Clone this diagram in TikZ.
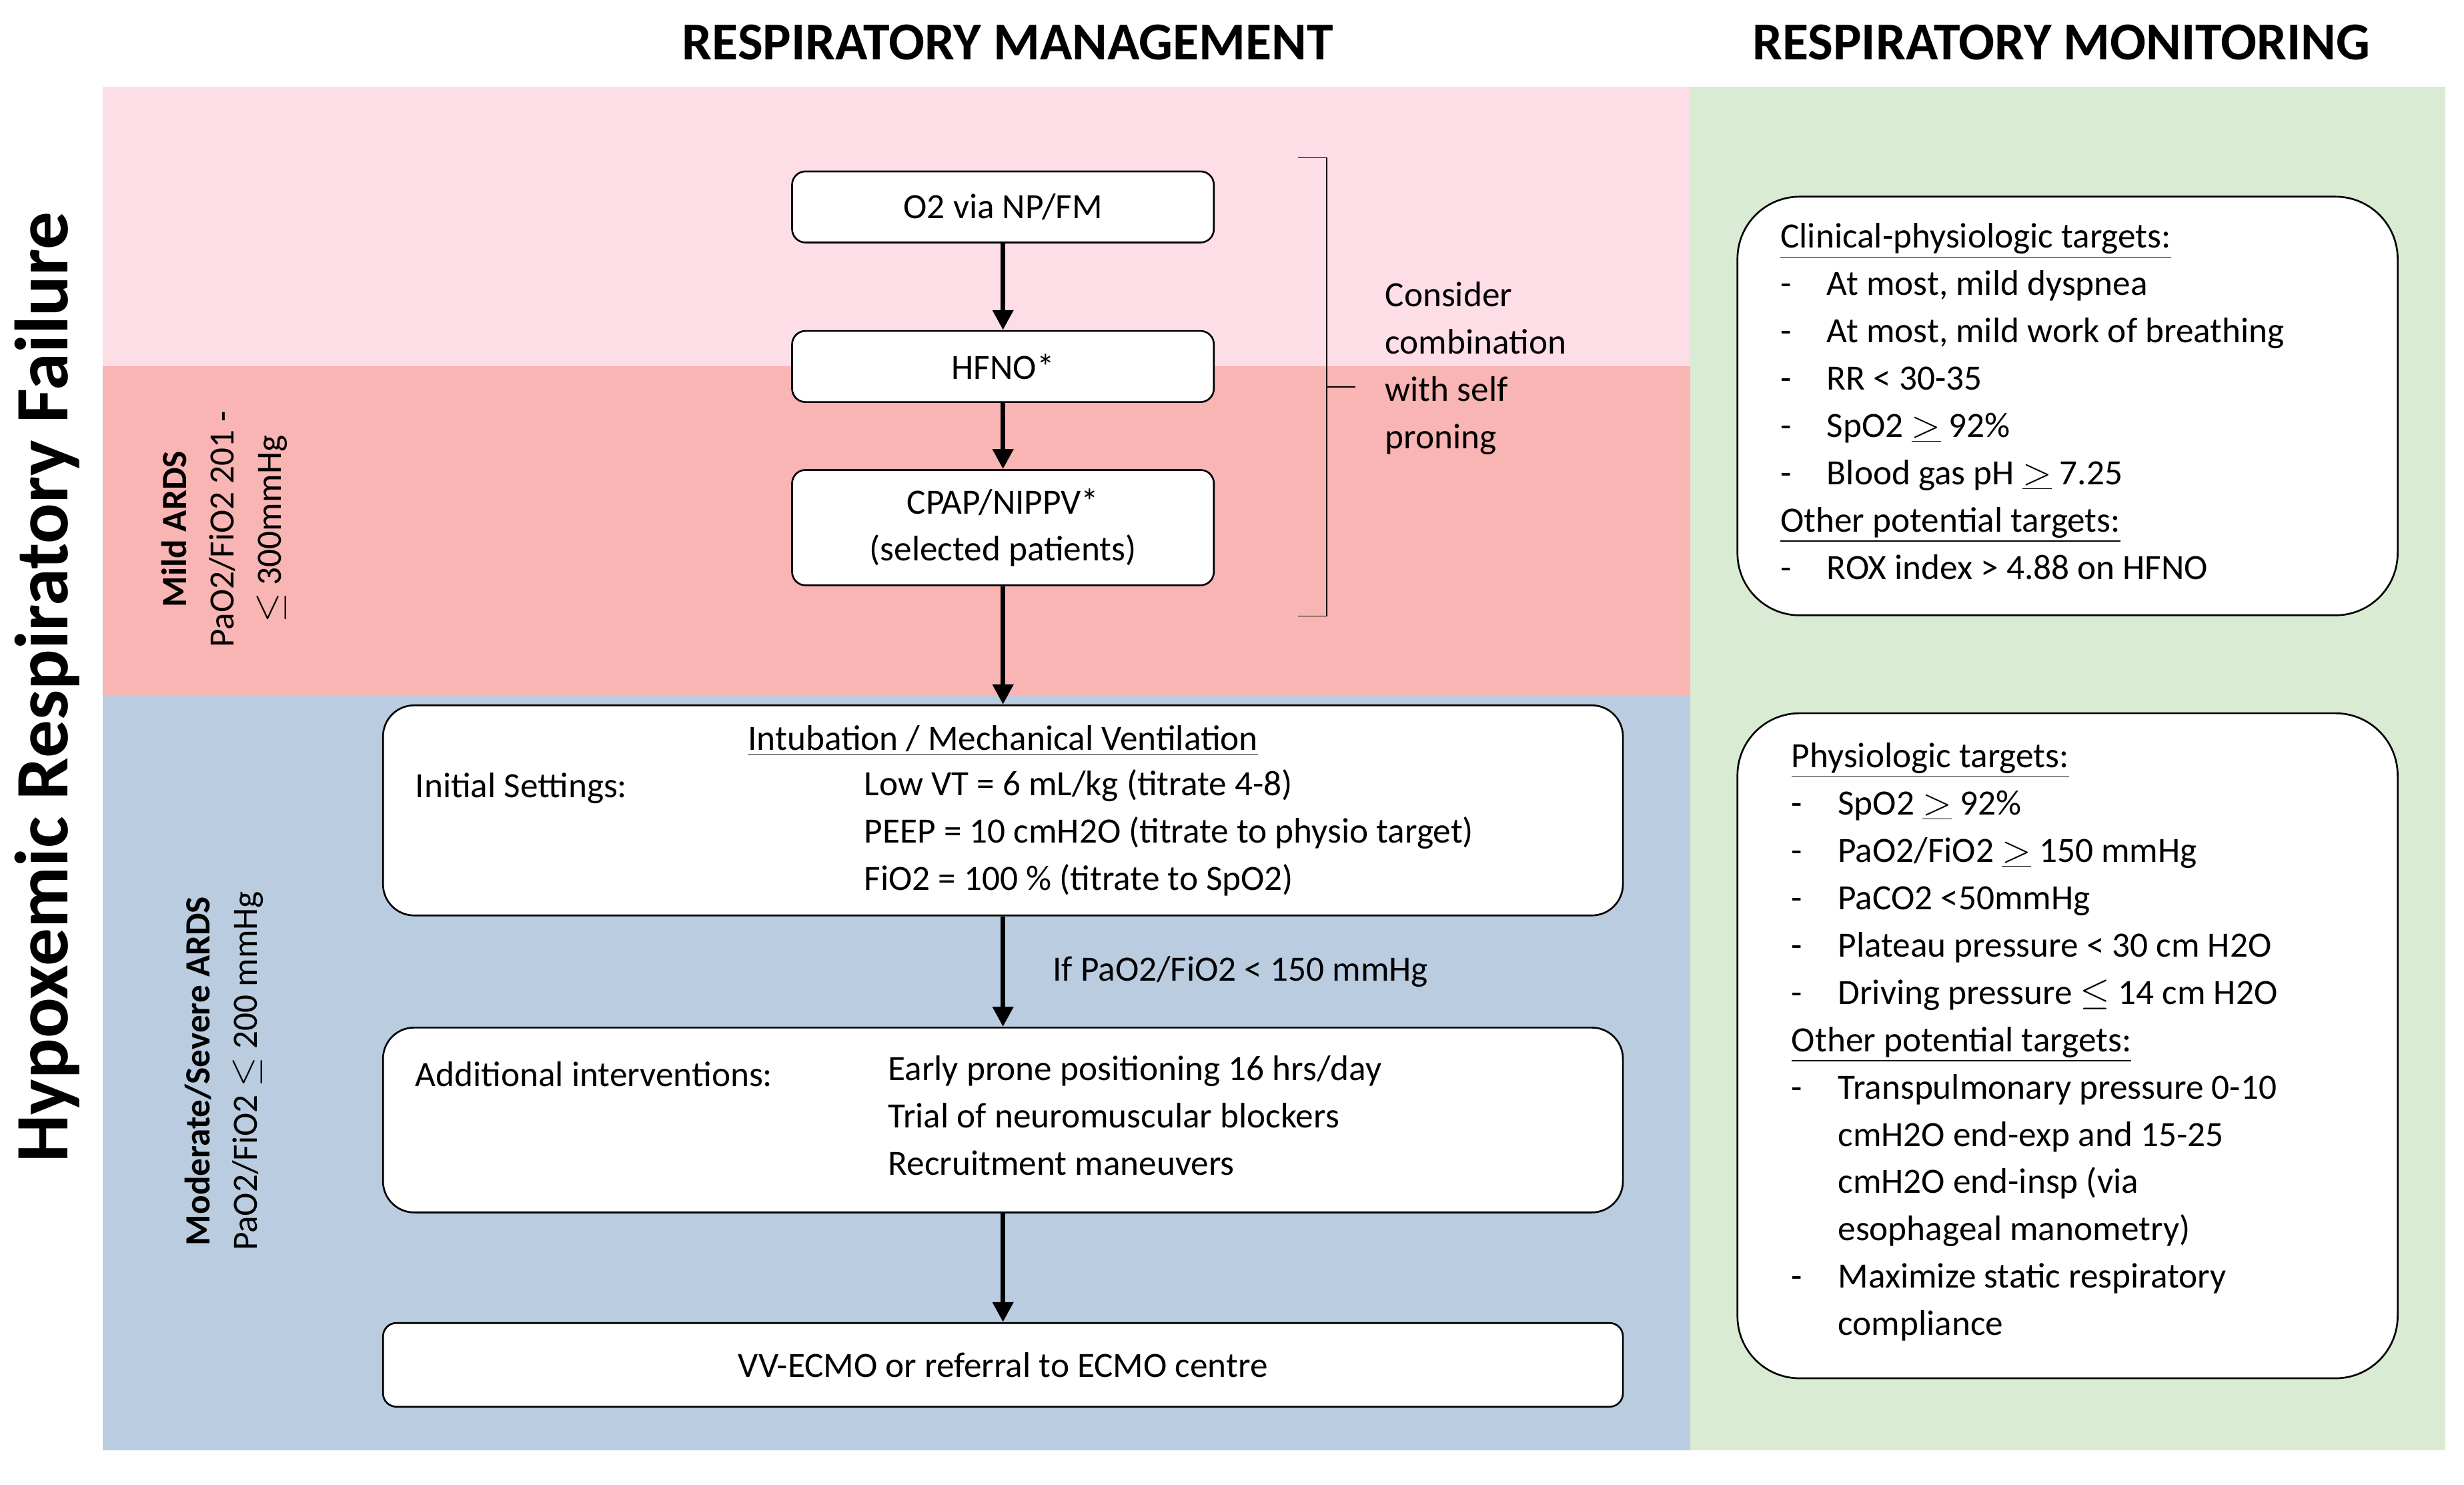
\documentclass[tikz,border=0pt]{standalone}
\usepackage{fontspec}
\setmainfont{Carlito}
\usepackage{tikz}
\usetikzlibrary{arrows.meta,decorations.pathreplacing}
\definecolor{pinkbg}{RGB}{253,222,230}
\definecolor{redbg}{RGB}{249,180,180}
\definecolor{bluebg}{RGB}{186,204,224}
\definecolor{greenbg}{RGB}{217,236,211}
\tikzset{
  stepbox/.style={draw=black, thick, fill=white, rounded corners=6pt, align=center, inner sep=0pt},
  mon/.style={draw=black, thick, fill=white, rounded corners=28pt, inner sep=0pt},
  flow/.style={-{Triangle[length=9pt,width=9pt]}, line width=2.2pt},
  txt/.style={font=\fontsize{16}{21.3}\selectfont},
}
\begin{document}
\begin{tikzpicture}[x=0.025cm, y=-0.025cm, txt]
    \useasboundingbox (0,0) rectangle (1560,940);
    % background bands
    \fill[pinkbg] (65,55) rectangle (1070,232);
    \fill[redbg] (65,232) rectangle (1070,440);
    \fill[bluebg] (65,440) rectangle (1070,918);
    \fill[greenbg] (1070,55) rectangle (1548,918);

    % titles
    \node[font=\fontsize{24}{28}\selectfont\bfseries] (tman) at (638,27) {RESPIRATORY MANAGEMENT};
    \node[font=\fontsize{24}{28}\selectfont\bfseries] (tmon) at (1305,27) {RESPIRATORY MONITORING};
    \node[rotate=90, font=\fontsize{34}{38}\selectfont\bfseries] (hrf) at (30,435) {Hypoxemic Respiratory Failure};
    \node[rotate=90, align=center] (mild) at (142,335) {\textbf{Mild ARDS}\\PaO2/FiO2 201 -\\$\leq$ 300mmHg};
    \node[rotate=90, align=center] (mod) at (142,678) {\textbf{Moderate/Severe ARDS}\\PaO2/FiO2 $\leq$ 200 mmHg};

    % management steps
    \node[stepbox, minimum width=267*0.025cm, minimum height=45*0.025cm] (o2) at (635,131) {O2 via NP/FM};
    \node[stepbox, minimum width=267*0.025cm, minimum height=45*0.025cm] (hfno) at (635,232) {HFNO*};
    \node[stepbox, minimum width=267*0.025cm, minimum height=73*0.025cm] (cpap) at (635,334) {CPAP/NIPPV*\\(selected patients)};
    \node[stepbox, rounded corners=14pt, minimum width=785*0.025cm, minimum height=133*0.025cm] (intub) at (635,513) {};
    \node[stepbox, rounded corners=14pt, minimum width=785*0.025cm, minimum height=117*0.025cm] (addit) at (635,709) {};
    \node[stepbox, minimum width=785*0.025cm, minimum height=53*0.025cm] (ecmo) at (635,864) {VV-ECMO or referral to ECMO centre};

    % box contents
    \node (intubt) at (635,469) {\underline{Intubation / Mechanical Ventilation}};
    \node[anchor=west] (inits) at (258,499) {Initial Settings:};
    \node[anchor=north west, align=left, inner sep=0pt] (settings) at (547,487) {Low VT = 6 mL/kg (titrate 4-8)\\PEEP = 10 cmH2O (titrate to physio target)\\FiO2 = 100 \% (titrate to SpO2)};
    \node[anchor=west] (addl) at (258,680) {Additional interventions:};
    \node[anchor=north west, align=left, inner sep=0pt] (interv) at (562,668) {Early prone positioning 16 hrs/day\\ Trial of neuromuscular blockers\\ Recruitment maneuvers};

    % connectors
    \draw[flow] (o2) -- (hfno);
    \draw[flow] (hfno) -- (cpap);
    \draw[flow] (cpap) -- (intub);
    \draw[flow] (intub) -- node[right=18pt] {If PaO2/FiO2 < 150 mmHg} (addit);
    \draw[flow] (addit) -- (ecmo);

    % brace and note
    \coordinate (btop) at (822,100);
    \coordinate (bbot) at (822,390);
    \draw[thin] (btop) -- ++(18,0) |- (bbot);
    \draw[thin] (840,245) -- (858,245);
    \node[anchor=west, align=left] (note) at (872,233) {Consider\\combination\\with self\\proning};

    % monitoring boxes
    \node[mon, minimum width=418*0.025cm, minimum height=265*0.025cm] (clin) at (1309,257) {};
    \node[anchor=north west, align=left, inner sep=0pt] (clint) at (1127,141) {\underline{Clinical-physiologic targets:}\\
      -\quad At most, mild dyspnea\\
      -\quad At most, mild work of breathing\\
      -\quad RR < 30-35\\
      -\quad SpO2 $\underline{>}$ 92\%\\
      -\quad Blood gas pH $\underline{>}$ 7.25\\
      \underline{Other potential targets:}\\
      -\quad ROX index > 4.88 on HFNO};
    \node[mon, minimum width=418*0.025cm, minimum height=421*0.025cm] (phys) at (1309,662) {};
    \node[anchor=north west, align=left, inner sep=0pt] (physt) at (1134,470) {\underline{Physiologic targets:}\\
      -\quad SpO2 $\underline{>}$ 92\%\\
      -\quad PaO2/FiO2 $\underline{>}$ 150 mmHg\\
      -\quad PaCO2 <50mmHg\\
      -\quad Plateau pressure < 30 cm H2O\\
      -\quad Driving pressure $\leq$ 14 cm H2O\\
      \underline{Other potential targets:}\\
      -\quad Transpulmonary pressure 0-10\\
      \phantom{-}\quad cmH2O end-exp and 15-25\\
      \phantom{-}\quad cmH2O end-insp (via\\
      \phantom{-}\quad esophageal manometry)\\
      -\quad Maximize static respiratory\\
      \phantom{-}\quad compliance};
\end{tikzpicture}
\end{document}
